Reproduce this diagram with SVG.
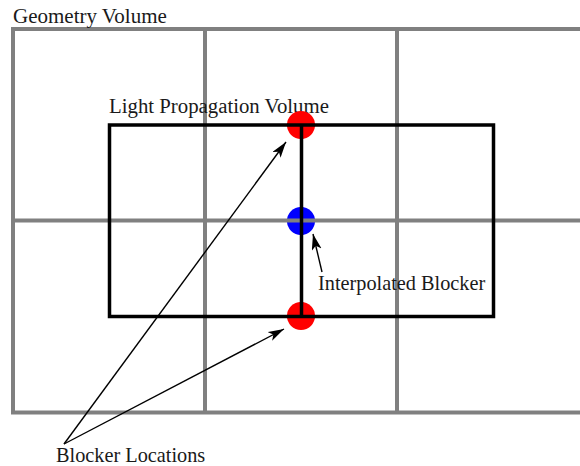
<svg xmlns="http://www.w3.org/2000/svg" width="580" height="466" viewBox="0 0 580 466">
<style>
.grid{stroke:#808080;stroke-width:4;fill:none}
.lpv{stroke:#000;stroke-width:3.5;fill:none}
.arr{stroke:#000;stroke-width:1.4;fill:none;marker-end:url(#ah)}
text{font-family:"Liberation Serif","Times New Roman",serif;font-size:20.3px;fill:#1a1a1a}
</style>
<defs>
<marker id="ah" markerUnits="userSpaceOnUse" markerWidth="20" markerHeight="12" refX="16" refY="5" orient="auto">
<path d="M0,0 L16,5 L0,10 L4,5 Z" fill="#000"/>
</marker>
</defs>
<g id="geometry-volume">
<path class="grid" d="M13,29 H580 M13,220.5 H580 M13,412.5 H580 M13,27 V414.5 M205,29 V412.5 M397,29 V412.5"/>
<text x="13" y="23" style="font-size:21px">Geometry Volume</text>
</g>
<g id="light-propagation-volume">
<rect class="lpv" x="109.5" y="125" width="384" height="191.5"/>
<line class="lpv" x1="301.5" y1="125" x2="301.5" y2="316.5"/>
<text x="109" y="113" style="font-size:20.8px">Light Propagation Volume</text>
</g>
<g id="blocker-top"><circle cx="301" cy="125" r="14" fill="#ff0000"/><line class="lpv" x1="301.5" y1="125" x2="301.5" y2="139"/><line class="lpv" x1="287" y1="125" x2="315" y2="125"/></g>
<g id="blocker-bottom"><circle cx="301" cy="316" r="14" fill="#ff0000"/><line class="lpv" x1="301.5" y1="302" x2="301.5" y2="316.5"/><line class="lpv" x1="287" y1="316.5" x2="315" y2="316.5"/></g>
<g id="blocker-interpolated"><circle cx="301" cy="221" r="14" fill="#0000ff"/><line class="grid" x1="287" y1="220.5" x2="315" y2="220.5"/><line class="lpv" x1="301.5" y1="207" x2="301.5" y2="235"/></g>
<g id="connectors">
<line class="arr" x1="64" y1="444" x2="286" y2="142"/>
<line class="arr" x1="64" y1="444" x2="284" y2="329"/>
<line class="arr" x1="322" y1="272" x2="313" y2="234"/>
</g>
<g id="labels">
<text x="318" y="290">Interpolated Blocker</text>
<text x="56" y="462">Blocker Locations</text>
</g>
</svg>
